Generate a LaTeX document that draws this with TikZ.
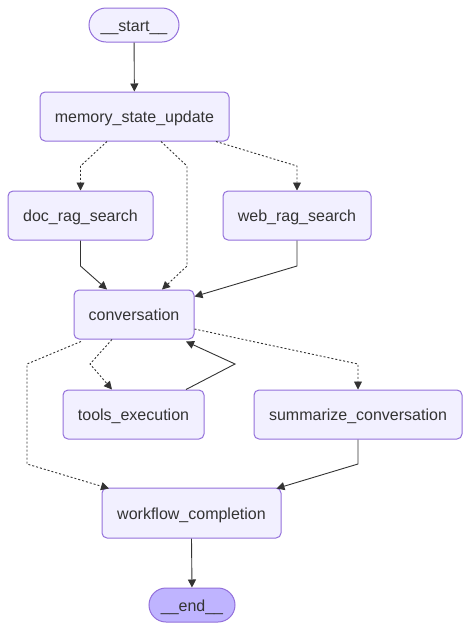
\documentclass[tikz,border=0pt]{standalone}
\usepackage{fontspec}
\setmainfont{Liberation Sans}
\usetikzlibrary{arrows.meta,calc}
\definecolor{nodefill}{HTML}{F2F0FF}
\definecolor{nodeborder}{HTML}{9370DB}
\definecolor{endfill}{HTML}{BFB4FF}
\definecolor{txt}{HTML}{333333}
\definecolor{edgecol}{HTML}{333333}
\begin{document}
\begin{tikzpicture}[x=1pt,y=-1pt,
 box/.style={draw=nodeborder, fill=nodefill, rounded corners=5pt, line width=1pt, text=txt,
   font=\fontsize{16}{19}\selectfont, inner sep=0pt, minimum height=49pt,
   text height=16pt, text depth=4pt},
 pill/.style={box, rounded corners=17pt, minimum height=34pt},
 solidedge/.style={draw=edgecol, line width=0.9pt, -{Triangle[length=8pt,width=8pt]}},
 dashededge/.style={solidedge, dash pattern=on 2pt off 2pt},
]
\useasboundingbox (0,0) rectangle (470,630);
\node[pill, minimum width=90pt] (start) at (134,25) {\_\_start\_\_};
\node[box, minimum width=189pt] (mem) at (134.5,116.5) {memory\_state\_update};
\node[box, minimum width=145pt] (doc) at (80.5,215.5) {doc\_rag\_search};
\node[box, minimum width=148pt] (web) at (297,215.5) {web\_rag\_search};
\node[box, minimum width=120pt] (conv) at (134,314.5) {conversation};
\node[box, minimum width=141pt] (tools) at (133.5,414.5) {tools\_execution};
\node[box, minimum width=208pt] (summ) at (358,414.5) {summarize\_conversation};
\node[box, minimum width=179pt, minimum height=50pt] (wf) at (191.5,513) {workflow\_completion};
\node[pill, minimum width=86pt, fill=endfill] (end) at (192,605) {\_\_end\_\_};

\draw[solidedge] (start) -- (mem);
\draw[dashededge] ($(mem.south)+(-27.5,0)$) -- (80.5,166) -- (doc.north);
\draw[dashededge] ($(mem.south)+(26.5,0)$) -- (187,166) -- (187,266) -- ($(conv.north)+(28,0)$);
\draw[dashededge] ($(mem.south)+(81.5,0)$) -- (297,166) -- (web.north);
\draw[solidedge] (doc.south) -- (80.5,266) -- ($(conv.north)+(-27,0)$);
\draw[solidedge] (web.south) -- (297,266) -- ($(conv.north east)+(0,7)$);
\draw[dashededge] ($(conv.south)+(-22,0)$) -- (90,364) -- ($(tools.north)+(-21.5,0)$);
\draw[solidedge] ($(tools.north)+(52.5,0)$) -- (235,364) -- ($(conv.south)+(52,2)$);
\draw[dashededge] ($(conv.east)+(0,14.5)$) -- (358,364) -- (summ.north);
\draw[dashededge] ($(conv.south)+(-53,2)$) -- (27,364) -- (27,464) -- ($(wf.north)+(-82.5,1)$);
\draw[solidedge] (summ.south) -- (358,464) -- ($(wf.north east)+(-5,1)$);
\draw[solidedge] (wf.south) -- (end.north);
\end{tikzpicture}
\end{document}
